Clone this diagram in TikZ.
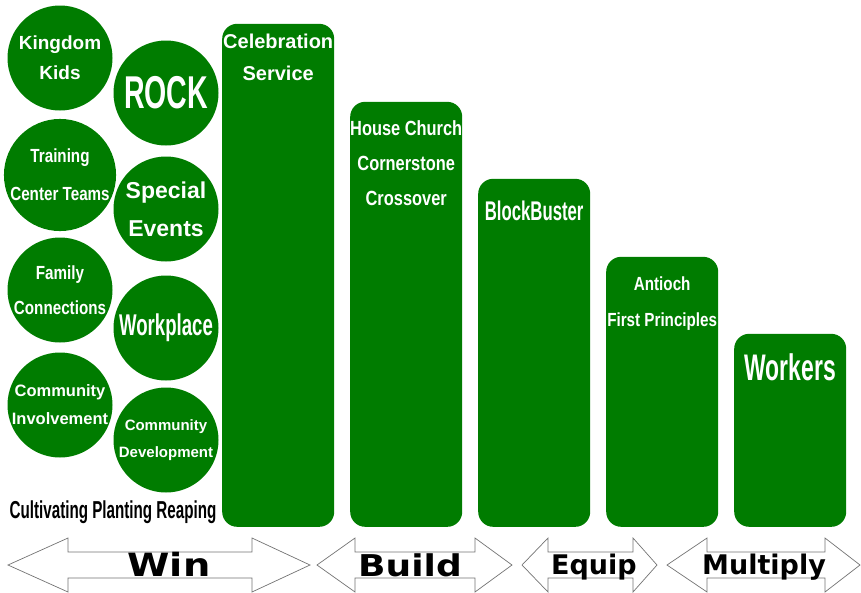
\documentclass[tikz,border=0pt]{standalone}
\usepackage{fontspec}
\usepackage{tikz}
\usetikzlibrary{shapes.geometric, positioning}
\setmainfont{Liberation Sans}
\newfontfamily\narrowfont{Liberation Sans}[FakeStretch=0.8]
\newfontfamily\impactfont{Liberation Sans}[FakeStretch=0.62]
\newfontfamily\heavyfont{DejaVu Sans}[FakeStretch=1.2]
\newfontfamily\heavierfont{DejaVu Sans}
\definecolor{churchgreen}{RGB}{0,124,0}
\tikzstyle{bubble} = [circle, fill=churchgreen, minimum size=105pt, inner sep=0pt,
    text=white, align=center]
\tikzstyle{bar} = [rectangle, rounded corners=15pt, fill=churchgreen,
    minimum width=112pt, inner sep=0pt, anchor=south west]
\tikzstyle{bartext} = [text=white, align=center, inner sep=0pt]
\tikzstyle{phase} = [draw=black!55, fill=white, line width=0.7pt]
\tikzstyle{phasetext} = [text=black, inner sep=0pt, anchor=base]
\newcommand{\phasearrow}[5]{%
  \draw[phase] (#1,#5) -- (#2,#5-27) -- (#2,#5-13) -- (#3,#5-13) -- (#3,#5-27)
    -- (#4,#5) -- (#3,#5+27) -- (#3,#5+13) -- (#2,#5+13) -- (#2,#5+27) -- cycle;}

\begin{document}
\begin{tikzpicture}[x=1pt, y=-1pt]
            \useasboundingbox (0,0) rectangle (861,592);
            % Outreach circles
            \node[bubble, font=\bfseries\fontsize{19}{30}\selectfont]
            (kids) at (60,58) {Kingdom\\Kids};
            \node[bubble, font=\impactfont\bfseries\fontsize{46}{50}\selectfont]
            (rock) at (166,93) {ROCK};
            \node[bubble, font=\narrowfont\bfseries\fontsize{19}{38}\selectfont]
            (training) at (60,175) {Training\\Center Teams};
            \node[bubble, font=\bfseries\fontsize{23}{38}\selectfont]
            (special) at (166,209) {Special\\Events};
            \node[bubble, font=\narrowfont\bfseries\fontsize{19}{35}\selectfont]
            (family) at (60,290) {Family\\Connections};
            \node[bubble, font=\impactfont\bfseries\fontsize{30}{34}\selectfont]
            (workplace) at (166,328) {Workplace};
            \node[bubble, font=\bfseries\fontsize{16.5}{28}\selectfont]
            (involvement) at (60,405) {Community\\Involvement};
            \node[bubble, font=\bfseries\fontsize{15}{27}\selectfont]
            (development) at (166,440) {Community\\Development};
            \node[text=black, inner sep=0pt,
            font=\impactfont\bfseries\fontsize{24.5}{28}\selectfont]
            (stages) at (113,512) {Cultivating Planting Reaping};
            % Ministry bars
            \node[bar, minimum height=503pt] (celebration) at (222,527) {};
            \node[bar, minimum height=425pt] (house) at (350,527) {};
            \node[bar, minimum height=348pt] (blockbuster) at (478,527) {};
            \node[bar, minimum height=270pt] (antioch) at (606,527) {};
            \node[bar, minimum height=193pt] (workers) at (734,527) {};
            \node[bartext, below=10pt of celebration.north,
            font=\bfseries\fontsize{20}{32}\selectfont]
            {Celebration\\Service};
            \node[bartext, below=19pt of house.north,
            font=\narrowfont\bfseries\fontsize{20.5}{35}\selectfont]
            {House Church\\Cornerstone\\Crossover};
            \node[bartext, below=22pt of blockbuster.north,
            font=\impactfont\bfseries\fontsize{27}{30}\selectfont]
            {BlockBuster};
            \node[bartext, below=20pt of antioch.north,
            font=\narrowfont\bfseries\fontsize{19}{36}\selectfont]
            {Antioch\\First Principles};
            \node[bartext, below=20pt of workers.north,
            font=\impactfont\bfseries\fontsize{37}{40}\selectfont]
            {Workers};
            % Phase arrows
            \phasearrow{8}{68}{252}{310}{565}
            \phasearrow{317}{355}{475}{512}{565}
            \phasearrow{522}{548}{633}{657}{565}
            \phasearrow{667}{707}{825}{860}{565}
            \node[phasetext, font=\heavyfont\bfseries\fontsize{32}{36}\selectfont]
            (win) at (169,576) {Win};
            \node[phasetext, font=\heavyfont\bfseries\fontsize{30}{34}\selectfont]
            (build) at (410,576) {Build};
            \node[phasetext, font=\heavierfont\bfseries\fontsize{27}{30}\selectfont]
            (equip) at (594,574) {Equip};
            \node[phasetext, font=\heavierfont\bfseries\fontsize{27}{30}\selectfont]
            (multiply) at (764,574) {Multiply};

        \end{tikzpicture}
\end{document}
